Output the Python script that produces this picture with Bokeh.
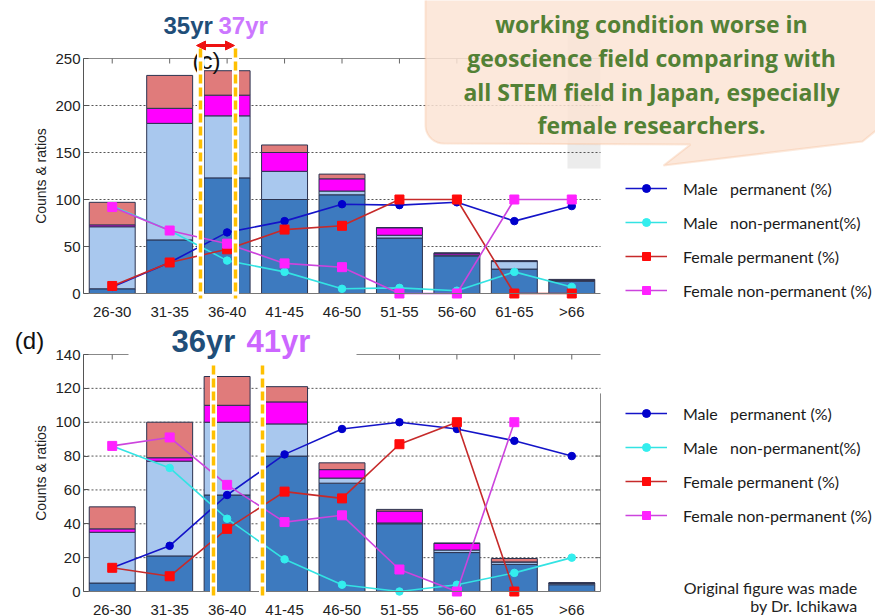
import math
from bokeh.plotting import figure
from bokeh.models import (Range1d, FixedTicker, LinearAxis, Legend, LegendItem, Label,
                          BoxAnnotation, PolyAnnotation, Arrow, NormalHead, ColumnDataSource)
from bokeh.embed import file_html
from bokeh.resources import INLINE

NaN = float("nan")

ages = ["26-30", "31-35", "36-40", "41-45", "46-50", "51-55", "56-60", "61-65", ">66"]

# ---- panel (c): counts ----
c_male_perm = [5, 57, 123, 100, 105, 59, 40, 26, 13]
c_male_nonperm = [66, 124, 66, 30, 4, 3, 1, 8, 1]
c_female_perm = [2, 16, 22, 20, 13, 8, 2, 0, 0]
c_female_nonperm = [24, 35, 26, 8, 5, 0, 0, 1, 1]
# ---- panel (c): ratios (%) ----
c_male_perm_pct = [7, 33, 65, 77, 95, 94, 97, 77, 93]
c_male_nonperm_pct = [93, 67, 35, 23, 5, 6, 3, 23, 7]
c_female_perm_pct = [8, 33, 47, 68, 72, 100, 100, 0, 0]
c_female_nonperm_pct = [92, 67, 53, 32, 28, 0, 0, 100, 100]
c_yticks = [0, 50, 100, 150, 200, 250]

# ---- panel (d): counts ----
d_male_perm = [5, 21, 57, 80, 64, 40, 23, 16, 4]
d_male_nonperm = [30, 56, 43, 19, 3, 0.5, 1.5, 1.5, 1]
d_female_perm = [2, 2, 10, 13, 5, 7, 4, 0, 0]
d_female_nonperm = [13, 21, 17, 9, 4, 1, 0, 2, 0]
# ---- panel (d): ratios (%) ----
d_male_perm_pct = [14, 27, 57, 81, 96, 100, 96, 89, 80]
d_male_nonperm_pct = [86, 73, 43, 19, 4, 0, 4, 11, 20]
d_female_perm_pct = [14, 9, 37, 59, 55, 87, 100, 0, NaN]
d_female_nonperm_pct = [86, 91, 63, 41, 45, 13, 0, 100, NaN]
d_yticks = [0, 20, 40, 60, 80, 100, 120, 140]

series_labels = ["Male\u00a0\u00a0 permanent (%)", "Male\u00a0\u00a0 non-permanent(%)",
                 "Female permanent (%)", "Female non-permanent (%)"]

BAR_COLORS = ["#3d7abf", "#a9c8ee", "#ff00ff", "#e07b7b"]
LINE_STYLE = [
    dict(line="#1414c8", marker="circle", fill="#0000cc", size=7.5),
    dict(line="#33e3e3", marker="circle", fill="#33eeee", size=7.5),
    dict(line="#c62a2a", marker="square", fill="#ff0a0a", size=9),
    dict(line="#cc44dd", marker="square", fill="#ff22ff", size=9),
]
FONT = "Liberation Sans"
W, H = 875, 616

# ---- page layout (pixel geometry of the two chart frames) ----
FX0, FX1 = 83, 600                 # left / right edge of both chart frames
PXU = (FX1 - FX0) / len(ages)      # pixels per category
T_Y0, T_Y1 = 293, 58               # top chart: pixel of y=0 and y=250
B_Y0, B_Y1 = 591, 354              # bottom chart: pixel of y=0 and y=140


def y_range_for(py0, py1, vmax):
    k = (py0 - py1) / vmax
    return Range1d((py0 - H) / k, py0 / k)


p = figure(width=W, height=H, x_range=Range1d(0, W), y_range=Range1d(H, 0),
           x_axis_location=None, y_axis_location=None, output_backend="svg",
           toolbar_location=None, min_border=0, outline_line_color=None,
           background_fill_color="white", border_fill_color="white")
p.grid.visible = False
p.extra_x_ranges = {"cx": Range1d(-0.5 - FX0 / PXU, len(ages) - 0.5 + (W - FX1) / PXU)}
p.extra_y_ranges = {"ty": y_range_for(T_Y0, T_Y1, c_yticks[-1]),
                    "by": y_range_for(B_Y0, B_Y1, d_yticks[-1])}

xs = list(range(len(ages)))
XL, XR = -0.5, len(ages) - 0.5

# light grey strip behind the callout (screenshot artefact)
p.add_layout(BoxAnnotation(left=567, right=600, top=20, bottom=168, fill_color="#ececec",
                           fill_alpha=1, line_color=None, level="underlay"))


def draw_chart(yname, yticks, counts, pcts, right_axis, legend_vy):
    kw = dict(x_range_name="cx", y_range_name=yname)
    inner = yticks[1:-1]
    # dotted horizontal grid
    p.segment(x0=[XL] * len(inner), x1=[XR] * len(inner), y0=inner, y1=inner,
              line_color="#555555", line_dash="2 2", line_width=1, **kw)
    # frame line on top with inward ticks at category centres
    p.segment(x0=[XL], x1=[XR], y0=[yticks[-1]], y1=[yticks[-1]], line_color="#888888",
              line_width=1, **kw)
    p.ray(x=xs, y=[yticks[-1]] * len(xs), length=5, length_units="screen",
          angle=-math.pi / 2, line_color="#666666", line_width=1, **kw)
    if right_axis:
        rtop = right_axis
        p.segment(x0=[XR], x1=[XR], y0=[0], y1=[rtop], line_color="#888888", line_width=1, **kw)
        rt = [t for t in yticks if 0 < t <= rtop]
        p.ray(x=[XR] * len(rt), y=rt, length=5, length_units="screen", angle=math.pi,
              line_color="#666666", line_width=1, **kw)

    src = ColumnDataSource(dict(x=xs, mp=counts[0], mn=counts[1], fp=counts[2], fn=counts[3]))
    p.vbar_stack(["mp", "mn", "fp", "fn"], x="x", width=0.8, source=src,
                 fill_color=BAR_COLORS, line_color="#2b3350", line_width=1, **kw)

    # axes
    ya = LinearAxis(ticker=FixedTicker(ticks=yticks, minor_ticks=[]), fixed_location=XL,
                    bounds=(yticks[0], yticks[-1]), **kw)
    ya.major_tick_in = 5
    ya.major_tick_out = 0
    ya.minor_tick_line_color = None
    ya.axis_line_color = "#555555"
    ya.major_tick_line_color = "#555555"
    ya.major_label_text_font = FONT
    ya.major_label_text_font_size = "15px"
    ya.major_label_text_color = "#222222"
    ya.major_label_standoff = 3
    ya.axis_label = "Counts & ratios"
    ya.axis_label_text_font = FONT
    ya.axis_label_text_font_size = "14px"
    ya.axis_label_text_font_style = "normal"
    ya.axis_label_text_color = "#222222"
    ya.axis_label_standoff = 3
    p.add_layout(ya, "left")

    xa = LinearAxis(ticker=FixedTicker(ticks=xs, minor_ticks=[]), fixed_location=0,
                    bounds=(XL, XR), major_label_overrides={i: a for i, a in zip(xs, ages)},
                    **kw)
    xa.major_tick_line_color = None
    xa.minor_tick_line_color = None
    xa.axis_line_color = "#777777"
    xa.major_label_text_font = FONT
    xa.major_label_text_font_size = "15px"
    xa.major_label_text_color = "#222222"
    xa.major_label_standoff = 3
    p.add_layout(xa, "below")

    items = []
    for vals, st, lab in zip(pcts, LINE_STYLE, series_labels):
        lr = p.line(xs, vals, line_color=st["line"], line_width=1.6, **kw)
        sr = p.scatter(xs, vals, marker=st["marker"], size=st["size"],
                       fill_color=st["fill"], line_color=st["fill"], **kw)
        items.append(LegendItem(label=lab, renderers=[lr, sr]))

    leg = Legend(items=items, location=(625, legend_vy), orientation="vertical",
                 glyph_width=42, glyph_height=20, label_height=20, spacing=14,
                 label_standoff=16, padding=0, margin=0, border_line_color=None,
                 background_fill_color="white", background_fill_alpha=1.0,
                 label_text_font="Lato", label_text_font_size="16px",
                 label_text_color="#1a1a1a")
    p.add_layout(leg, "center")


draw_chart("ty", c_yticks, [c_male_perm, c_male_nonperm, c_female_perm, c_female_nonperm],
           [c_male_perm_pct, c_male_nonperm_pct, c_female_perm_pct, c_female_nonperm_pct],
           None, H - 300)
draw_chart("by", d_yticks, [d_male_perm, d_male_nonperm, d_female_perm, d_female_nonperm],
           [d_male_perm_pct, d_male_nonperm_pct, d_female_perm_pct, d_female_nonperm_pct],
           117, H - 525)


def label(X, Y, text, size, color, font=FONT, style="normal", align="center"):
    p.add_layout(Label(x=X, y=Y, text=text, text_font=font, text_font_size=size,
                       text_color=color, text_font_style=style, text_align=align,
                       text_baseline="middle", level="overlay"))


def vline(X, Y0, Y1):
    for col, w, dash in (("white", 7, "solid"), ("#ffc000", 3.5, "9 4")):
        p.add_layout(Arrow(start=None, end=None, x_start=X, y_start=Y0, x_end=X, y_end=Y1,
                           line_color=col, line_width=w, line_dash=dash, level="overlay"))


# ---------- callout bubble ----------
r = 18
cx, cy = 425 + r, 143 - r
pts = [(425, -5)]
for k in range(10):
    th = math.pi - (k / 9) * (math.pi / 2)
    pts.append((cx + r * math.cos(th), cy + r * math.sin(th)))
pts += [(690, 144), (663, 165), (862, 141), (878, 128), (880, -5)]
p.add_layout(PolyAnnotation(xs=[a for a, b in pts], ys=[b for a, b in pts],
                            fill_color="#fbe4d5", fill_alpha=0.85, line_color="#f5b68a",
                            line_width=2, level="overlay"))
for txt, yy in (("working condition worse in", 23), ("geoscience field comparing with", 57),
                ("all STEM field in Japan, especially", 91), ("female researchers.", 124)):
    label(651, yy, txt, "23px", "#538135", font="Open Sans", style="bold")

# ---------- top chart annotations ----------
label(206, 60, "(c)", "24px", "#111111")
label(163, 25, "35yr", "24px", "#1f4e79", style="bold", align="left")
label(218, 25, "37yr", "24px", "#cc77ff", style="bold", align="left")
vline(200, 48, 298)
vline(235, 48, 298)
p.add_layout(Arrow(start=NormalHead(size=9, fill_color="#ee1111", line_color="#ee1111"),
                   end=NormalHead(size=9, fill_color="#ee1111", line_color="#ee1111"),
                   x_start=196, y_start=45, x_end=234, y_end=45,
                   line_color="#ee1111", line_width=3, level="overlay"))

# ---------- bottom chart annotations ----------
p.add_layout(BoxAnnotation(left=128, right=356, top=318, bottom=362, fill_color="white",
                           fill_alpha=1, line_color=None, level="overlay"))
label(29, 340, "(d)", "24px", "#111111")
label(171, 341, "36yr", "31px", "#1f4e79", style="bold", align="left")
label(246, 341, "41yr", "31px", "#cc66ff", style="bold", align="left")
vline(213, 365, 597)
vline(262, 365, 597)
label(857, 587, "Original figure was made", "16px", "#222222", font="Lato", align="right")
label(857, 605, "by Dr. Ichikawa", "16px", "#222222", font="Lato", align="right")

open("out.html", "w").write(file_html(p, INLINE))
